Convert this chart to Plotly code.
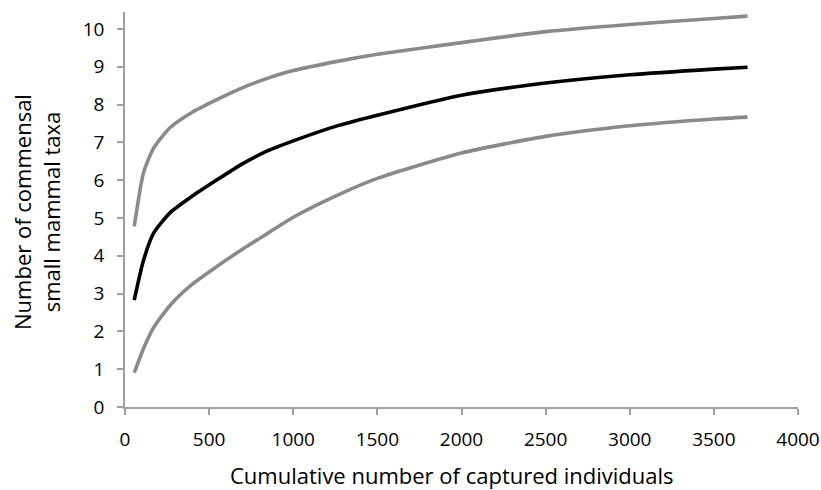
import plotly.graph_objects as go

individuals = [55, 110, 170, 270, 400, 540, 700, 850, 1000, 1270, 1500, 2000, 2500, 3000, 3500, 3700]
upper_ci = [4.78, 6.2, 6.85, 7.4, 7.8, 8.12, 8.45, 8.7, 8.9, 9.15, 9.33, 9.64, 9.93, 10.12, 10.28, 10.34]
mean_taxa = [2.83, 3.88, 4.6, 5.15, 5.58, 5.99, 6.44, 6.78, 7.04, 7.45, 7.72, 8.25, 8.57, 8.79, 8.94, 8.99]
lower_ci = [0.91, 1.55, 2.1, 2.7, 3.25, 3.7, 4.18, 4.6, 5.02, 5.62, 6.05, 6.72, 7.16, 7.44, 7.62, 7.67]

x_ticks = [0, 500, 1000, 1500, 2000, 2500, 3000, 3500, 4000]
y_ticks = list(range(0, 11))

x_title = "Cumulative number of captured individuals"
y_title = "Number of commensal<br>small mammal taxa"

FONT = "Open Sans, sans-serif"
GRAY = "#8a8a8a"
AXIS = "#a0a0a0"

fig = go.Figure()
for ys, col in [(upper_ci, GRAY), (lower_ci, GRAY), (mean_taxa, "#000000")]:
    fig.add_trace(go.Scatter(x=individuals, y=ys, mode="lines",
                             line=dict(color=col, width=3.6, shape="spline", smoothing=0.6),
                             showlegend=False, hoverinfo="skip"))

axis_common = dict(showline=True, linecolor=AXIS, linewidth=1.5, ticks="outside",
                   ticklen=6, tickcolor=AXIS, tickwidth=1.5, showgrid=False,
                   zeroline=False, automargin=False,
                   tickfont=dict(family=FONT, size=19, color="#000"))

fig.update_layout(
    width=821, height=490,
    margin=dict(l=125, r=23, t=12, b=83),
    paper_bgcolor="white", plot_bgcolor="white",
    font=dict(family=FONT, color="#000"),
    xaxis=dict(range=[0, 4000], tickvals=x_ticks, ticklabelstandoff=8, **axis_common),
    yaxis=dict(range=[0, 10.45], tickvals=y_ticks, ticklabelstandoff=9, **axis_common),
)

fig.add_annotation(text=x_title, xref="paper", yref="paper",
                   x=(452 - 125) / 673, y=(407 - 475) / 395,
                   xanchor="center", yanchor="middle", showarrow=False,
                   font=dict(family=FONT, size=22, color="#000"))
fig.add_annotation(text=y_title, xref="paper", yref="paper",
                   x=(36 - 125) / 673, y=(407 - 212) / 395,
                   xanchor="center", yanchor="middle", showarrow=False, textangle=-90,
                   font=dict(family=FONT, size=22, color="#000"))

fig.write_html("out.html", config={"displayModeBar": False},
               post_script="document.body.style.margin='0';document.body.style.overflow='hidden';")
